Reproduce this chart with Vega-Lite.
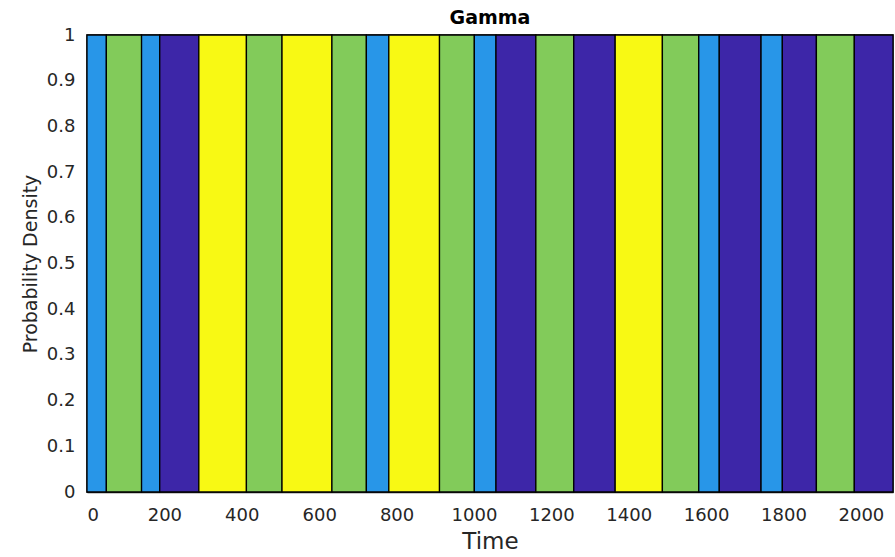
{
  "$schema": "https://vega.github.io/schema/vega-lite/v6.json",
  "autosize": "none",
  "padding": {"left": 87, "top": 35, "right": 2, "bottom": 65},
  "width": 806,
  "height": 457,
  "background": "white",
  "title": {"text": "Gamma", "font": "DejaVu Sans", "fontSize": 19, "fontWeight": "bold", "color": "#000000", "offset": -2, "anchor": "middle"},
  "config": {"view": {"stroke": "#262626", "strokeWidth": 1.5}},
  "data": {"values": [
    {"state": "B", "start": 0, "end": 50},
    {"state": "C", "start": 50, "end": 141},
    {"state": "B", "start": 141, "end": 188},
    {"state": "A", "start": 188, "end": 289},
    {"state": "D", "start": 289, "end": 412},
    {"state": "C", "start": 412, "end": 504},
    {"state": "D", "start": 504, "end": 633},
    {"state": "C", "start": 633, "end": 722},
    {"state": "B", "start": 722, "end": 780},
    {"state": "D", "start": 780, "end": 911},
    {"state": "C", "start": 911, "end": 1001},
    {"state": "B", "start": 1001, "end": 1057},
    {"state": "A", "start": 1057, "end": 1160},
    {"state": "C", "start": 1160, "end": 1258},
    {"state": "A", "start": 1258, "end": 1365},
    {"state": "D", "start": 1365, "end": 1487},
    {"state": "C", "start": 1487, "end": 1581},
    {"state": "B", "start": 1581, "end": 1634},
    {"state": "A", "start": 1634, "end": 1742},
    {"state": "B", "start": 1742, "end": 1797},
    {"state": "A", "start": 1797, "end": 1885},
    {"state": "C", "start": 1885, "end": 1983},
    {"state": "A", "start": 1983, "end": 2083}
  ]},
  "mark": {"type": "rect", "stroke": "#000000", "strokeWidth": 1.3},
  "encoding": {
    "x": {"field": "start", "type": "quantitative", "scale": {"domain": [0, 2083], "nice": false, "zero": false},
      "axis": {"title": "Time", "titleFont": "DejaVu Sans", "titleFontSize": 23, "titleFontWeight": "normal", "titleColor": "#262626", "titlePadding": 6,
        "values": [0, 200, 400, 600, 800, 1000, 1200, 1400, 1600, 1800, 2000], "format": "d",
        "labelFont": "DejaVu Sans", "labelFontSize": 18, "labelColor": "#262626", "labelPadding": 19,
        "tickSize": -5, "tickColor": "#262626", "domainColor": "#262626", "domainWidth": 1.5, "grid": false}},
    "x2": {"field": "end"},
    "y": {"datum": 0, "type": "quantitative", "scale": {"domain": [0, 1], "nice": false},
      "axis": {"title": "Probability Density", "titleFont": "DejaVu Sans", "titleFontSize": 19, "titleFontWeight": "normal", "titleColor": "#262626", "titlePadding": 6,
        "values": [0, 0.1, 0.2, 0.3, 0.4, 0.5, 0.6, 0.7, 0.8, 0.9, 1], "format": "~g",
        "labelFont": "DejaVu Sans", "labelFontSize": 18, "labelColor": "#262626", "labelPadding": 17,
        "tickSize": -5, "tickColor": "#262626", "domainColor": "#262626", "domainWidth": 1.5, "grid": false}},
    "y2": {"datum": 1},
    "color": {"field": "state", "type": "nominal", "legend": null,
      "scale": {"domain": ["A", "B", "C", "D"], "range": ["#3D26A8", "#2896E8", "#82CB5A", "#F8F914"]}}
  }
}
